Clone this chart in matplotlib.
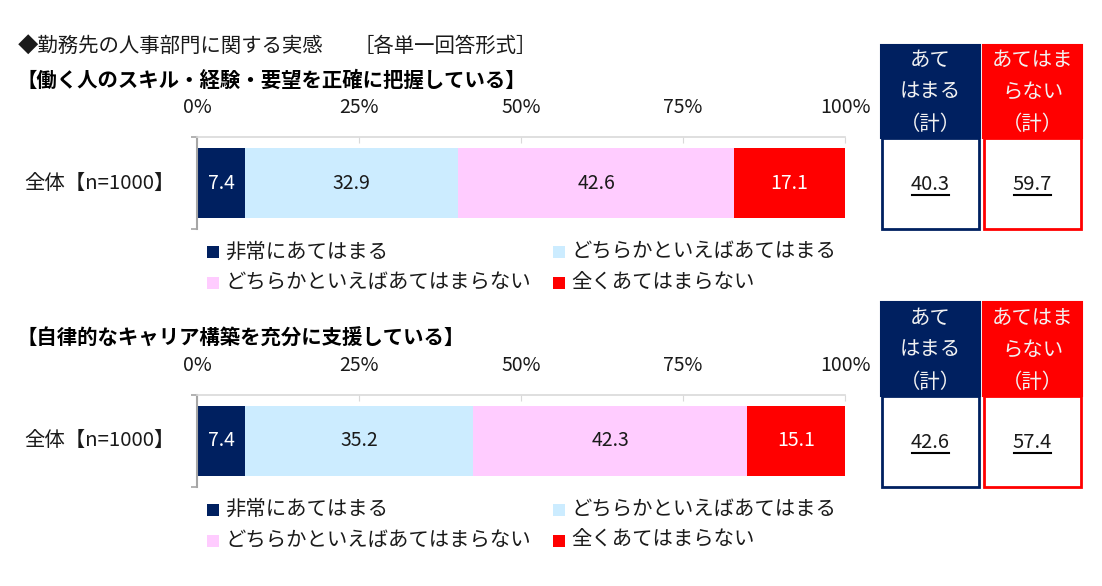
import matplotlib
matplotlib.use("Agg")
import matplotlib.pyplot as plt
from matplotlib.patches import Rectangle
from matplotlib.lines import Line2D

plt.rcParams['font.family'] = ['Noto Sans CJK JP', 'DejaVu Sans']

title = "◆勤務先の人事部門に関する実感"
title_note = "［各単一回答形式］"
questions = ["【働く人のスキル・経験・要望を正確に把握している】",
             "【自律的なキャリア構築を充分に支援している】"]
group_label = "全体【n=1000】"
categories = ["非常にあてはまる", "どちらかといえばあてはまる",
              "どちらかといえばあてはまらない", "全くあてはまらない"]
q1_values = [7.4, 32.9, 42.6, 17.1]
q2_values = [7.4, 35.2, 42.3, 15.1]
values = [q1_values, q2_values]
applies_total = [40.3, 42.6]
not_applies_total = [59.7, 57.4]
tick_vals = [0, 25, 50, 75, 100]
tick_labels = ["0%", "25%", "50%", "75%", "100%"]
box_headers = [["あて", "はまる", "（計）"], ["あてはま", "らない", "（計）"]]

colors = ["#002060", "#CCECFF", "#FFCCFF", "#FF0000"]
label_colors = ["white", "#1a1a1a", "#1a1a1a", "white"]

W, H = 1102, 586
fig = plt.figure(figsize=(W / 100, H / 100), dpi=100)

def fx(x):
    return x / W

def fy(y):
    return 1 - y / H

FS = 14      # numbers
FSJ = 14.7   # Japanese text

fig.text(fx(18), fy(46), title, fontsize=FSJ, va='center', ha='left', color='#1a1a1a')
fig.text(fx(354), fy(46), title_note, fontsize=FSJ, va='center', ha='left', color='#1a1a1a')

underlines = []
offsets = [0, 257.5]
for p in range(2):
    off = offsets[p]
    qy = 80 if p == 0 else 338
    fig.text(fx(16), fy(qy), questions[p], fontsize=FSJ, fontweight='bold',
             va='center', ha='left', color='black')
    top = 137.5 + off
    bot = 229 + off
    ax = fig.add_axes([fx(197), fy(bot), fx(845) - fx(197), (bot - top) / H])
    ax.set_xlim(0, 100)
    ax.set_ylim(-0.5, 0.5)
    left = 0
    bh = 70 / (bot - top)
    for i, v in enumerate(values[p]):
        ax.barh(0, v, left=left, height=bh, color=colors[i], edgecolor='none')
        ax.text(left + v / 2, 0, f"{v:.1f}", ha='center', va='center',
                fontsize=FS, color=label_colors[i])
        left += v
    ax.xaxis.tick_top()
    ax.set_xticks(tick_vals)
    ax.set_xticklabels(tick_labels, fontsize=FS, color='#1a1a1a')
    ax.tick_params(axis='x', direction='in', length=4, color='#D9D9D9', pad=14)
    ax.set_yticks([-0.5, 0.5])
    ax.set_yticklabels([])
    ax.tick_params(axis='y', direction='out', length=4, color='#A6A6A6', width=1.2)
    for s in ['right', 'bottom']:
        ax.spines[s].set_visible(False)
    ax.spines['top'].set_color('#D9D9D9')
    ax.spines['top'].set_linewidth(1.2)
    ax.spines['left'].set_color('#A6A6A6')
    ax.spines['left'].set_linewidth(1.5)
    fig.text(fx(24), fy(183 + off), group_label, fontsize=FSJ, va='center',
             ha='left', color='#1a1a1a')
    leg_pos = [(207, 252), (553, 252), (207, 283), (553, 283)]
    for i, (lx, ly) in enumerate(leg_pos):
        ly = ly + off
        fig.patches.append(Rectangle((fx(lx), fy(ly + 6)), 12 / W, 12 / H,
                                     transform=fig.transFigure,
                                     facecolor=colors[i], edgecolor='none'))
        fig.text(fx(lx + 18), fy(ly), categories[i], fontsize=FSJ, va='center',
                 ha='left', color='#1a1a1a')
    btop = (45 if p == 0 else 302)
    hbot = (138 if p == 0 else 396)
    bbot = (229 if p == 0 else 487)
    row_y = [60, 92, 124] if p == 0 else [318, 350, 383]
    vy = 184 if p == 0 else 442
    boxes = [(881, 980, colors[0], applies_total[p], box_headers[0]),
             (983, 1082, colors[3], not_applies_total[p], box_headers[1])]
    for (x0, x1, c, val, hdr) in boxes:
        fig.patches.append(Rectangle((fx(x0), fy(hbot)), (x1 - x0) / W, (hbot - btop) / H,
                                     transform=fig.transFigure, facecolor=c,
                                     edgecolor=c, linewidth=1.5))
        fig.patches.append(Rectangle((fx(x0 + 1), fy(bbot)), (x1 - x0 - 2) / W, (bbot - hbot) / H,
                                     transform=fig.transFigure, facecolor='white',
                                     edgecolor=c, linewidth=2))
        xc = (x0 + x1) / 2
        for t, ry in zip(hdr, row_y):
            fig.text(fx(xc), fy(ry), t, fontsize=FSJ, ha='center', va='center',
                     color='#F2F2F2')
        t = fig.text(fx(xc), fy(vy), f"{val:.1f}", fontsize=FS + 0.5, ha='center',
                     va='center', color='#1a1a1a')
        underlines.append((t, vy))

fig.canvas.draw()
r = fig.canvas.get_renderer()
for t, vy in underlines:
    bb = t.get_window_extent(renderer=r)
    x0p, x1p = bb.x0 + 1, bb.x1 - 1
    yline = fy(vy + 11)
    fig.lines.append(Line2D([x0p / W, x1p / W], [yline, yline],
                            transform=fig.transFigure, color='black', linewidth=1.5))

fig.savefig("out.png", dpi=100)
